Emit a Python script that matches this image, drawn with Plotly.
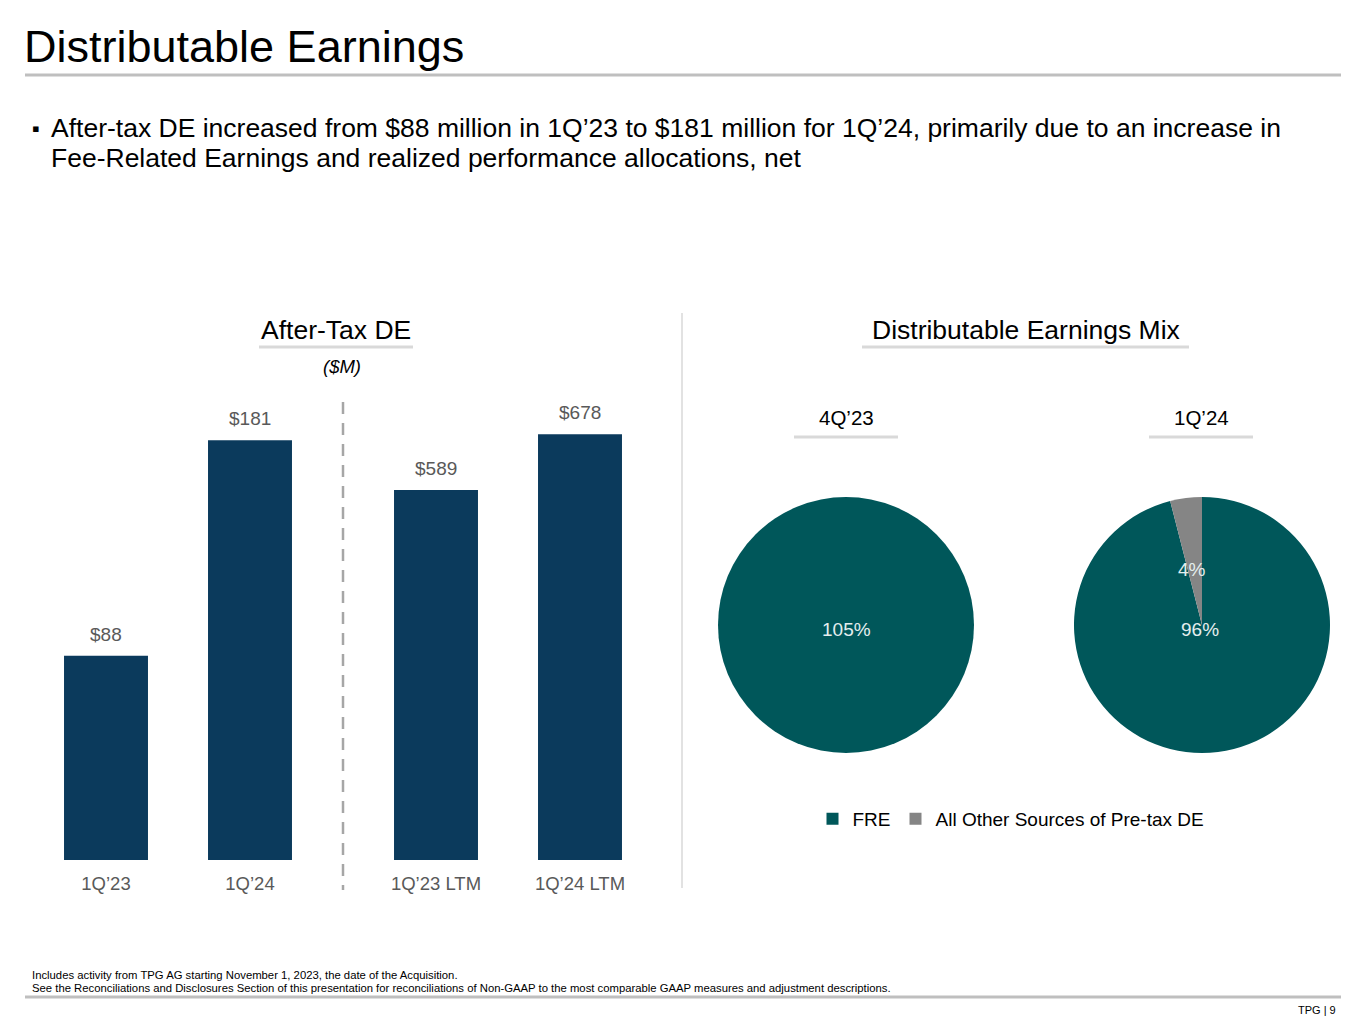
import plotly.graph_objects as go

# page has an 8px body margin: size figure so it fills the 1365x1024 window
OFF = 8
W, H = 1365 - 2 * OFF, 1024 - 2 * OFF

# ---- data ----
qtr_categories = ["1Q\u201923", "1Q\u201924"]
qtr_values = [88, 181]
ltm_categories = ["1Q\u201923 LTM", "1Q\u201924 LTM"]
ltm_values = [589, 678]

mix_labels = ["FRE", "All Other Sources of Pre-tax DE"]
mix_periods = ["4Q\u201923", "1Q\u201924"]
mix_4q23 = [105, -5]
mix_1q24 = [96, 4]

BAR = "#0b3a5c"
FRE_C = "#00575a"
OTH_C = "#858585"
GRAY_TXT = "#595959"
FONT = "Liberation Sans, Arial, sans-serif"


def px(x):
    return (x - OFF) / W


def py(y):
    return 1 - (y - OFF) / H


fig = go.Figure()

fig.add_trace(go.Bar(
    x=qtr_categories, y=qtr_values, xaxis="x", yaxis="y",
    marker=dict(color=BAR, line=dict(width=0)),
    showlegend=False, hoverinfo="skip",
))
fig.add_trace(go.Bar(
    x=ltm_categories, y=ltm_values, xaxis="x2", yaxis="y2",
    marker=dict(color=BAR, line=dict(width=0)),
    showlegend=False, hoverinfo="skip",
))

pie_domains = [
    dict(x=[px(718), px(974)], y=[py(753), py(497)]),
    dict(x=[px(1074), px(1330)], y=[py(753), py(497)]),
]
for i, vals in enumerate([mix_4q23, mix_1q24]):
    fig.add_trace(go.Pie(
        labels=mix_labels, values=[max(v, 0) for v in vals],
        marker=dict(colors=[FRE_C, OTH_C], line=dict(width=0)),
        sort=False, direction="clockwise", rotation=0,
        textinfo="none", hoverinfo="skip",
        domain=pie_domains[i], showlegend=(i == 1),
    ))

annotations = []


def txt(x, y, s, size, color="#000000", xanchor="center", yanchor="middle", italic=False, family=FONT, align="center"):
    if italic:
        s = f"<i>{s}</i>"
    annotations.append(dict(
        x=px(x), y=py(y), xref="paper", yref="paper", text=s, showarrow=False,
        xanchor=xanchor, yanchor=yanchor, align=align,
        font=dict(size=size, color=color, family=family),
    ))


# bar value labels, placed through the data axes
for cats, vals, xr, yr in [(qtr_categories, qtr_values, "x", "y"), (ltm_categories, ltm_values, "x2", "y2")]:
    for c, v in zip(cats, vals):
        annotations.append(dict(
            x=c, y=v, xref=xr, yref=yr, text=f"${v}", showarrow=False,
            xanchor="center", yanchor="bottom", yshift=9,
            font=dict(size=19, color=GRAY_TXT, family=FONT),
        ))

txt(22, 47, "Distributable Earnings", 45, xanchor="left")
txt(30, 128, "\u25aa", 22, xanchor="left")
txt(49, 128, "After-tax DE increased from $88 million in 1Q\u201923 to $181 million for 1Q\u201924, primarily due to an increase in", 26.5, xanchor="left")
txt(49, 158, "Fee-Related Earnings and realized performance allocations, net", 26.5, xanchor="left")
txt(336, 330, "After-Tax DE", 26.5)
txt(342, 366, "($M)", 18.5, italic=True)
txt(1026, 330, "Distributable Earnings Mix", 26.5)
txt(846, 417, mix_periods[0], 20.5)
txt(1201, 417, mix_periods[1], 20.5)

# pie labels
PIE_TXT = "#e4eeee"
txt(846, 629, f"{mix_4q23[0]}%", 19, color=PIE_TXT)
txt(1200, 629, f"{mix_1q24[0]}%", 19, color=PIE_TXT)
txt(1192, 569, f"{mix_1q24[1]}%", 19, color=PIE_TXT)

txt(30, 975, "Includes activity from TPG AG starting November 1, 2023, the date of the Acquisition.", 11.3, xanchor="left")
txt(30, 988, "See the Reconciliations and Disclosures Section of this presentation for reconciliations of Non-GAAP to the most comparable GAAP measures and adjustment descriptions.", 11.3, xanchor="left")
txt(1338, 1010, "TPG | 9", 11, xanchor="right")

shapes = [
    dict(type="line", xref="paper", yref="paper", x0=px(25), x1=px(1341), y0=py(75), y1=py(75),
         line=dict(color="#bfbfbf", width=3)),
    dict(type="line", xref="paper", yref="paper", x0=px(25), x1=px(1341), y0=py(997), y1=py(997),
         line=dict(color="#bfbfbf", width=3)),
    dict(type="line", xref="paper", yref="paper", x0=px(259), x1=px(413), y0=py(347), y1=py(347),
         line=dict(color="#d9d9d9", width=3)),
    dict(type="line", xref="paper", yref="paper", x0=px(862), x1=px(1189), y0=py(347), y1=py(347),
         line=dict(color="#d9d9d9", width=3)),
    dict(type="line", xref="paper", yref="paper", x0=px(794), x1=px(898), y0=py(437), y1=py(437),
         line=dict(color="#d9d9d9", width=3)),
    dict(type="line", xref="paper", yref="paper", x0=px(1149), x1=px(1253), y0=py(437), y1=py(437),
         line=dict(color="#d9d9d9", width=3)),
    dict(type="line", xref="paper", yref="paper", x0=px(343), x1=px(343), y0=py(402), y1=py(890),
         line=dict(color="#a6a6a6", width=2.5, dash="12px,9px")),
    dict(type="line", xref="paper", yref="paper", x0=px(682), x1=px(682), y0=py(313), y1=py(888),
         line=dict(color="#d9d9d9", width=1.5)),
]

axis_x = dict(showline=False, showgrid=False, zeroline=False, ticks="", ticklabelstandoff=10,
              tickfont=dict(size=18.5, color=GRAY_TXT), fixedrange=True)

fig.update_layout(
    width=W, height=H, margin=dict(l=0, r=0, t=0, b=0),
    paper_bgcolor="white", plot_bgcolor="white",
    font=dict(family=FONT, color="#000000"),
    bargap=0.417,
    xaxis=dict(domain=[px(34), px(322)], anchor="y", **axis_x),
    yaxis=dict(domain=[py(860), py(400)], anchor="x", range=[0, 198.3], visible=False, fixedrange=True),
    xaxis2=dict(domain=[px(364), px(652)], anchor="y2", **axis_x),
    yaxis2=dict(domain=[py(860), py(400)], anchor="x2", range=[0, 732.5], visible=False, fixedrange=True),
    legend=dict(orientation="h", x=px(1011), y=py(819), xanchor="center", yanchor="middle",
                font=dict(size=19, color="#000000"), itemclick=False, itemwidth=30,
                traceorder="normal"),
    annotations=annotations, shapes=shapes,
)

fig.write_html("out.html")
